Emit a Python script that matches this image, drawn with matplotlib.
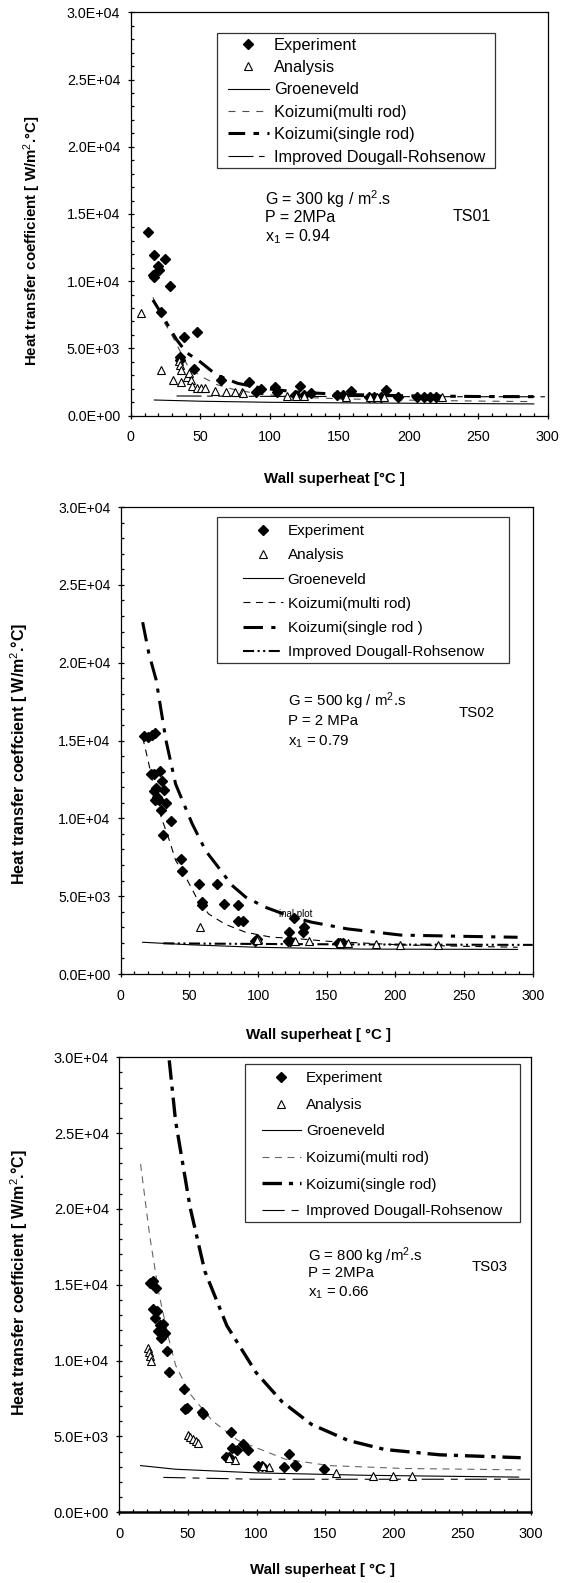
import numpy as np
import matplotlib.pyplot as plt
from matplotlib.patches import Rectangle
from matplotlib.ticker import MultipleLocator, FuncFormatter

plt.rcParams['font.family'] = ['Liberation Sans', 'DejaVu Sans']
plt.rcParams['mathtext.fontset'] = 'custom'
plt.rcParams['mathtext.rm'] = 'Liberation Sans'
plt.rcParams['mathtext.it'] = 'Liberation Sans:italic'
plt.rcParams['mathtext.bf'] = 'Liberation Sans:bold'
plt.rcParams['lines.scale_dashes'] = False

# ---- TS01 (G = 300) ----  values in W/m2.C / 1000
ts01_exp_x = [12.6, 17, 16.2, 17, 19.6, 20.2, 24.6, 28, 21.5, 38.5, 47.7, 35.4, 35.4, 45.8,
              65, 85, 90, 94, 104, 105, 122, 130, 148.5, 152.5, 158.5, 171.6, 183.4, 192.6,
              205.7, 211, 118, 125, 175, 180, 215, 220]
ts01_exp_y = [13.68, 11.92, 10.44, 10.34, 11.13, 10.83, 11.62, 9.65, 7.72, 5.81, 6.23, 4.33, 4.13, 3.46,
              2.65, 2.47, 1.73, 1.98, 2.1, 1.73, 2.18, 1.66, 1.53, 1.53, 1.85, 1.41, 1.9, 1.41,
              1.36, 1.36, 1.5, 1.55, 1.4, 1.38, 1.36, 1.36]
ts01_ana_x = [7.6, 21.7, 30.4, 36, 34.6, 35.4, 36.4, 40.6, 42, 43.2, 43.8, 48, 50.6, 53.7, 60.8,
              68.6, 74.7, 80, 81, 112.7, 119, 124.4, 154.6, 182, 224, 172, 177]
ts01_ana_y = [7.62, 3.41, 2.65, 2.47, 4.08, 3.76, 3.41, 2.84, 3.17, 2.65, 2.23, 2.03, 2.03, 2.03, 1.86,
              1.73, 1.73, 1.73, 1.66, 1.48, 1.43, 1.43, 1.36, 1.36, 1.36, 1.38, 1.36]
ts01_groen_x = [17, 50, 100, 150, 200, 250, 290]
ts01_groen_y = [1.16, 1.07, 0.99, 0.95, 0.92, 0.89, 0.87]
ts01_kmulti_x = [16, 21, 28, 35, 41, 50, 62, 74, 94, 120, 150, 200, 250, 290]
ts01_kmulti_y = [8.8, 7.4, 6.3, 4.9, 3.7, 2.95, 2.3, 1.95, 1.58, 1.38, 1.25, 1.15, 1.08, 1.04]
ts01_ksingle_x = [16, 22, 28, 33, 40, 50, 62, 77, 94, 120, 150, 200, 250, 290]
ts01_ksingle_y = [8.6, 7.6, 6.5, 5.65, 4.7, 4.0, 3.0, 2.4, 2.05, 1.75, 1.58, 1.47, 1.42, 1.41]
ts01_idr_x = [33, 100, 200, 298]
ts01_idr_y = [1.46, 1.43, 1.41, 1.40]

# ---- TS02 (G = 500) ----
ts02_exp_x = [17.3, 20, 22.6, 25, 21.8, 24.5, 28.5, 30.3, 31.7, 33.3, 24, 25.8, 26.6, 27.7, 25.3,
              29.3, 37, 31, 44, 44.4, 57.2, 70.3, 59, 59, 75.3, 85.7, 85.7, 89, 122.4, 126.4,
              132.8, 133.6, 97.7, 99, 121.6, 123.5, 158, 160, 162]
ts02_exp_y = [15.28, 15.24, 15.34, 15.45, 12.88, 12.88, 13.05, 12.38, 11.85, 10.99, 11.74, 11.97, 11.37,
              11.16, 11.2, 10.56, 9.8, 8.9, 7.36, 6.61, 5.75, 5.75, 4.61, 4.46, 4.5, 4.46, 3.39, 3.39,
              2.68, 3.58, 2.73, 3.05, 2.15, 2.22, 2.1, 2.1, 1.97, 1.97, 1.97]
ts02_ana_x = [57.8, 100.3, 99, 127, 137, 165.6, 186, 203.6, 230.8, 160]
ts02_ana_y = [3.0, 2.25, 2.2, 2.1, 2.1, 1.97, 1.93, 1.87, 1.87, 1.97]
ts02_groen_x = [16, 50, 98, 140, 177, 230, 289]
ts02_groen_y = [2.04, 1.88, 1.72, 1.65, 1.60, 1.59, 1.58]
ts02_kmulti_x = [16, 20, 24.6, 29.4, 35.4, 40, 47.5, 55, 64, 76, 91, 110, 125, 151, 204, 250, 289]
ts02_kmulti_y = [15.2, 13.7, 11.8, 10.1, 8.6, 7.3, 6.2, 4.94, 3.86, 3.2, 2.68, 2.36, 2.3, 2.1, 1.87, 1.78, 1.72]
ts02_ksingle_x = [16, 20.5, 25.8, 33, 40, 52, 62, 69, 81, 91, 105, 125, 139, 165, 204, 250, 289]
ts02_ksingle_y = [22.6, 20.6, 18.9, 15.0, 12.2, 9.66, 7.9, 7.1, 5.7, 4.94, 4.3, 3.65, 3.33, 2.9, 2.5, 2.42, 2.36]
ts02_idr_x = [31, 100, 200, 300]
ts02_idr_y = [1.97, 1.93, 1.89, 1.87]

# ---- TS03 (G = 800) ----
ts03_exp_x = [22.2, 24.9, 27, 24.9, 27.6, 26.2, 29.4, 32.1, 33.4, 30.2, 28.4, 31.6, 34.5, 36.4, 47,
              47.6, 49.5, 61, 60.5, 81.6, 82.4, 85.9, 90.4, 93.7, 77.9, 79.7, 101, 104, 119.9,
              123.9, 127.9, 129, 148.8]
ts03_exp_y = [15.15, 15.27, 14.8, 13.43, 13.3, 12.79, 12.36, 12.43, 11.84, 11.48, 11.96, 11.72, 10.61,
              9.28, 8.1, 6.82, 6.91, 6.46, 6.63, 5.28, 4.21, 4.1, 4.5, 4.1, 3.62, 3.67, 3.08, 3.08,
              3.0, 3.84, 3.15, 3.03, 2.84]
ts03_ana_x = [20.9, 21.7, 22.2, 23, 50.3, 51.6, 53.5, 55.7, 57, 84.6, 80, 109.2, 105, 157.9, 184.6, 199.6, 213.5]
ts03_ana_y = [10.85, 10.54, 10.3, 9.95, 5.09, 4.97, 4.85, 4.69, 4.57, 3.48, 3.6, 3.0, 3.05, 2.56, 2.42, 2.37, 2.37]
ts03_groen_x = [15.5, 41, 100, 180, 291]
ts03_groen_y = [3.08, 2.84, 2.6, 2.44, 2.32]
ts03_kmulti_x = [15.5, 22.2, 28.9, 35.6, 41, 51.6, 67.7, 86.4, 121, 153, 207, 292.5]
ts03_kmulti_y = [22.97, 18.2, 14.4, 11.6, 9.7, 7.8, 6.04, 4.74, 3.5, 3.08, 2.89, 2.8]
ts03_ksingle_x = [36.4, 41, 51.6, 62.3, 78.4, 99.8, 118.5, 140, 166.7, 193.5, 233.6, 292.5]
ts03_ksingle_y = [29.8, 25.8, 20.1, 15.9, 12.3, 9.2, 7.3, 5.8, 4.74, 4.14, 3.79, 3.6]
ts03_idr_x = [32.1, 100, 300]
ts03_idr_y = [2.3, 2.18, 2.18]

legend_labels_1 = ['Experiment', 'Analysis', 'Groeneveld', 'Koizumi(multi rod)',
                   'Koizumi(single rod)', 'Improved Dougall-Rohsenow']
legend_labels_2 = ['Experiment', 'Analysis', 'Groeneveld', 'Koizumi(multi rod)',
                   'Koizumi(single rod )', 'Improved Dougall-Rohsenow']


def k(v):
    return np.array(v) * 1000.0


fig = plt.figure(figsize=(5.73, 15.83), dpi=100)

panels = [
    dict(rect=[0.2281, 0.73746, 0.7277, 0.25477],
         exp=(ts01_exp_x, ts01_exp_y), ana=(ts01_ana_x, ts01_ana_y),
         groen=(ts01_groen_x, ts01_groen_y), kmulti=(ts01_kmulti_x, ts01_kmulti_y),
         ksingle=(ts01_ksingle_x, ts01_ksingle_y), idr=(ts01_idr_x, ts01_idr_y),
         multi_style=dict(color='0.3', lw=0.8, ls=(0, (5, 5))),
         single_style=dict(color='black', lw=2.2, ls=(0, (12, 6, 4, 6))),
         idr_style=dict(color='black', lw=0.8, ls=(0, (18, 4, 4, 4))),
         labels=legend_labels_1, leg=(0.2077, 0.613, 0.8736, 0.948), legfs=11.8,
         legspace=0.45, handle_off=8, top_off=2, hl=2.5,
         ylabel='Heat transfer coefficient [ W/m$^2$.°C]', ylpos=(-0.236, 0.433), ylfs=10.8,
         xlabel='Wall superheat [°C ]', xlpos=(0.488, -0.157), xlfs=10.8,
         ann=['G = 300 kg / m$^2$.s', 'P = 2MPa', 'x$_1$ = 0.94'], ann_x=96.4,
         ann_y=[16.1, 14.7, 13.3], annfs=11.5, ts='TS01', ts_xy=(231.3, 14.8), tickfs=10.3),
    dict(rect=[0.2106, 0.38471, 0.7191, 0.29501],
         exp=(ts02_exp_x, ts02_exp_y), ana=(ts02_ana_x, ts02_ana_y),
         groen=(ts02_groen_x, ts02_groen_y), kmulti=(ts02_kmulti_x, ts02_kmulti_y),
         ksingle=(ts02_ksingle_x, ts02_ksingle_y), idr=(ts02_idr_x, ts02_idr_y),
         multi_style=dict(color='black', lw=0.8, ls=(0, (5, 4))),
         single_style=dict(color='black', lw=2.2, ls=(0, (14, 6, 3, 6))),
         idr_style=dict(color='black', lw=1.5, ls=(0, (8, 2.5, 1.5, 2.5, 1.5, 2.5))),
         labels=legend_labels_2, leg=(0.234, 0.667, 0.9425, 0.979), legfs=11,
         legspace=0.67, handle_off=24, top_off=5, hl=2.6,
         ylabel='Heat transfer coeffcient [ W/m$^2$.°C]', ylpos=(-0.2467, 0.4726), ylfs=11.5,
         xlabel='Wall superheat [ °C ]', xlpos=(0.48, -0.1306), xlfs=10.8,
         ann=['G = 500 kg / m$^2$.s', 'P = 2 MPa', 'x$_1$ = 0.79'], ann_x=121.6,
         ann_y=[17.53, 16.24, 14.9], annfs=10.8, ts='TS02', ts_xy=(246, 16.74), tickfs=10.1),
    dict(rect=[0.2082, 0.04466, 0.7185, 0.28743],
         exp=(ts03_exp_x, ts03_exp_y), ana=(ts03_ana_x, ts03_ana_y),
         groen=(ts03_groen_x, ts03_groen_y), kmulti=(ts03_kmulti_x, ts03_kmulti_y),
         ksingle=(ts03_ksingle_x, ts03_ksingle_y), idr=(ts03_idr_x, ts03_idr_y),
         multi_style=dict(color='0.4', lw=0.8, ls=(0, (5, 4))),
         single_style=dict(color='black', lw=2.4, ls=(0, (14, 5, 3, 5))),
         idr_style=dict(color='black', lw=0.8, ls=(0, (16, 5, 5, 5))),
         labels=legend_labels_1, leg=(0.306, 0.637, 0.973, 0.985), legfs=11,
         legspace=0.82, handle_off=14, top_off=5, hl=2.6,
         ylabel='Heat transfer coefficient [ W/m$^2$.°C]', ylpos=(-0.2426, 0.504), ylfs=11.5,
         xlabel='Wall superheat [ °C ]', xlpos=(0.493, -0.127), xlfs=10.8,
         ann=['G = 800 kg /m$^2$.s', 'P = 2MPa', 'x$_1$ = 0.66'], ann_x=137.3,
         ann_y=[16.9, 15.8, 14.5], annfs=10.8, ts='TS03', ts_xy=(256.4, 16.2), tickfs=10.5),
]

for i, p in enumerate(panels):
    ax = fig.add_axes(p['rect'])
    h_exp, = ax.plot(p['exp'][0], k(p['exp'][1]), ls='none', marker='D', ms=5,
                     mfc='black', mec='black', zorder=4)
    h_ana, = ax.plot(p['ana'][0], k(p['ana'][1]), ls='none', marker='^', ms=6,
                     mfc='white', mec='black', mew=0.8, zorder=5)
    h_gr, = ax.plot(p['groen'][0], k(p['groen'][1]), color='black', lw=0.8, ls='-')
    h_km, = ax.plot(p['kmulti'][0], k(p['kmulti'][1]), **p['multi_style'])
    h_ks, = ax.plot(p['ksingle'][0], k(p['ksingle'][1]), **p['single_style'])
    h_id, = ax.plot(p['idr'][0], k(p['idr'][1]), **p['idr_style'])

    ax.set_xlim(0, 300)
    ax.set_ylim(0, 30000)
    ax.xaxis.set_major_locator(MultipleLocator(50))
    ax.xaxis.set_minor_locator(MultipleLocator(10))
    ax.yaxis.set_major_locator(MultipleLocator(5000))
    ax.yaxis.set_minor_locator(MultipleLocator(1000))
    ax.yaxis.set_major_formatter(FuncFormatter(lambda v, pos: '{:.1E}'.format(v)))
    ax.tick_params(which='major', direction='inout', length=5, width=0.9,
                   labelsize=p['tickfs'], top=False, right=False)
    ax.tick_params(which='minor', direction='in', length=2.5, width=0.9, top=False, right=False)
    ax.tick_params(axis='x', which='major', pad=8)
    ax.tick_params(axis='y', which='major', pad=5)
    for s in ax.spines.values():
        s.set_linewidth(0.9)
    if i == 2:
        ax.spines['bottom'].set_linewidth(1.8)

    ax.set_ylabel(p['ylabel'], fontsize=p['ylfs'], fontweight='bold')
    ax.yaxis.set_label_coords(*p['ylpos'])
    ax.yaxis.label.set_va('center')
    ax.set_xlabel(p['xlabel'], fontsize=p['xlfs'], fontweight='bold')
    ax.xaxis.set_label_coords(*p['xlpos'])
    ax.xaxis.label.set_va('center')

    for txt, yy in zip(p['ann'], p['ann_y']):
        ax.text(p['ann_x'], yy * 1000, txt, fontsize=p['annfs'], ha='left', va='center')
    ax.text(p['ts_xy'][0], p['ts_xy'][1] * 1000, p['ts'], fontsize=p['annfs'], ha='left', va='center')
    if i == 1:
        ax.text(115, 3860, 'inal plot', fontsize=7, ha='left', va='center')

    # legend frame and entries
    x0, y0, x1, y1 = p['leg']
    ax.add_patch(Rectangle((x0, y0), x1 - x0, y1 - y0, transform=ax.transAxes,
                           facecolor='white', edgecolor='0.2', lw=0.9, zorder=6))
    axw = ax.get_position().width * fig.get_figwidth() * 100
    axh = ax.get_position().height * fig.get_figheight() * 100
    leg = ax.legend([h_exp, h_ana, h_gr, h_km, h_ks, h_id], p['labels'],
                    loc='upper left',
                    bbox_to_anchor=(x0 + p['handle_off'] / axw, y1 - p['top_off'] / axh),
                    frameon=False, fontsize=p['legfs'], borderpad=0.15, borderaxespad=0,
                    labelspacing=p['legspace'], handlelength=p['hl'], handletextpad=0.3,
                    numpoints=1)
    leg.set_zorder(7)

fig.savefig('out.png', dpi=100)
